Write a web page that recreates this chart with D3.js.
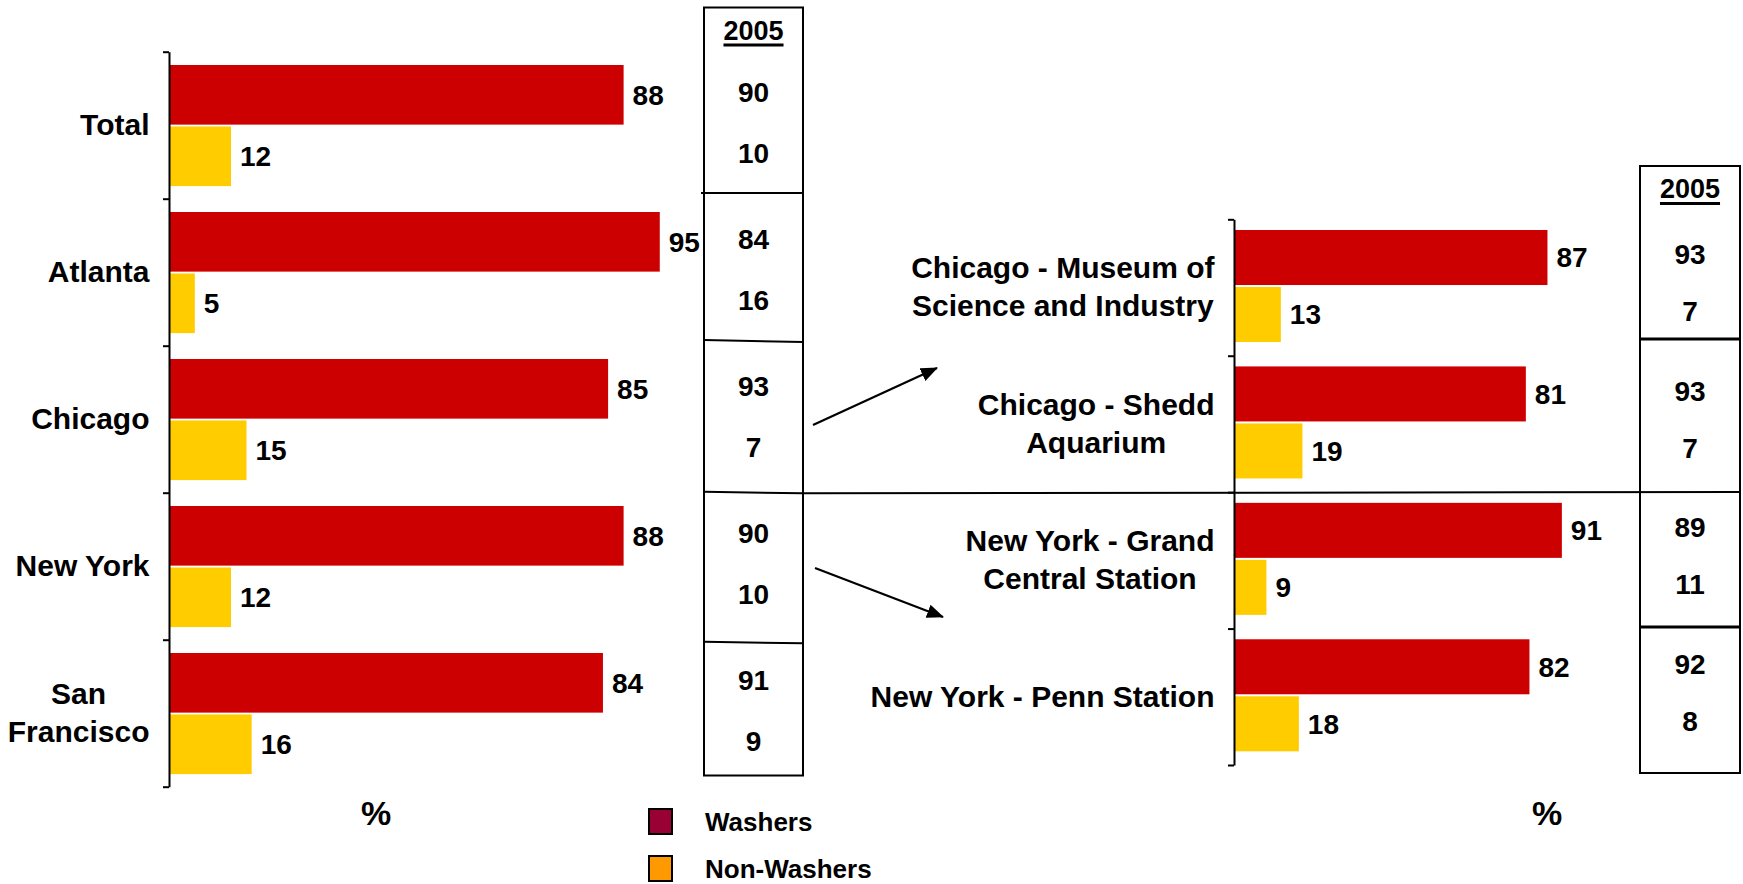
<!doctype html>
<html lang="en">
<head>
  <meta charset="utf-8">
  <title>Washers and Non-Washers</title>
  <style type="text/css">
    body{
      margin:0;
      background:#fff;
    }
    text{
      font-family: "Liberation Sans", Arial, Helvetica, sans-serif;
      font-weight:bold;
      fill:#000;
    }
    .axis path, .axis line{
      stroke:#000;
      stroke-width:2;
    }
    .box{
      fill:none;
      stroke:#000;
      stroke-width:2;
    }
    .rule{
      stroke:#000;
      stroke-width:2;
    }
  </style>
</head>
<body>
  <div id="vis"></div>
  <script src="https://cdn.jsdelivr.net/npm/d3@7"></script>
  <script type="text/javascript">

    var width = 1743,
      height = 884;

    // series
    var series = ['Washers','Non-Washers'],
      barColors = ['#CC0000','#FFCC00'],
      legendColors = ['#990033','#FF9900'];

    // cities (left panel), "\n" marks a line break in the label
    var cities = ['Total','Atlanta','Chicago','New York','San\nFrancisco'],
      cityWashers = [88,95,85,88,84],
      cityNonWashers = [12,5,15,12,16],
      city2005Washers = [90,84,93,90,91],
      city2005NonWashers = [10,16,7,10,9];

    // sites (right panel)
    var sites = ['Chicago - Museum of\nScience and Industry','Chicago - Shedd\nAquarium','New York - Grand\nCentral Station','New York - Penn Station'],
      siteWashers = [87,81,91,82],
      siteNonWashers = [13,19,9,18],
      site2005Washers = [93,93,89,92],
      site2005NonWashers = [7,7,11,8];

    var yearLabel = '2005',
      unitLabel = '%';

    var svg = d3.select('#vis').append('svg')
      .attr('width', width)
      .attr('height', height);

    var defs = svg.append('defs');
    defs.append('marker')
      .attr('id','arrow')
      .attr('markerUnits','userSpaceOnUse')
      .attr('markerWidth',17)
      .attr('markerHeight',14)
      .attr('refX',16)
      .attr('refY',7)
      .attr('orient','auto')
      .append('path')
      .attr('d','M0,0L17,7L0,14Z')
      .attr('fill','#000');

    function drawPanel(p){
      var g = svg.append('g');

      var y = d3.scaleBand().domain(p.cats).range(p.yRange);
      var sub = d3.scaleBand().domain(series)
        .range([p.subPad[0], y.bandwidth() - p.subPad[1]])
        .paddingInner(p.subGap);
      var x = d3.scaleLinear().domain([0,100]).range(p.xRange);
      var edge = d3.scaleLinear().domain([0,p.cats.length]).range(p.yRange);

      var rows = p.cats.map(function(c,i){
        return {
          cat:c,
          items:[
            {key:series[0], v:p.washers[i], old:p.old[0][i]},
            {key:series[1], v:p.nonWashers[i], old:p.old[1][i]}
          ]
        };
      });

      var grp = g.selectAll('.cat')
        .data(rows)
        .enter().append('g')
        .attr('class','cat')
        .attr('transform', function(d){ return 'translate(0,' + y(d.cat) + ')'; });

      grp.selectAll('rect')
        .data(function(d){ return d.items; })
        .enter().append('rect')
        .attr('x', x(0))
        .attr('y', function(d){ return sub(d.key); })
        .attr('width', function(d){ return x(d.v) - x(0); })
        .attr('height', sub.bandwidth())
        .attr('fill', function(d){ return barColors[series.indexOf(d.key)]; });

      grp.selectAll('text.val')
        .data(function(d){ return d.items; })
        .enter().append('text')
        .attr('class','val')
        .attr('x', function(d){ return x(d.v) + 9; })
        .attr('y', function(d){ return sub(d.key) + sub.bandwidth() / 2; })
        .attr('dy','0.35em')
        .style('font-size','28px')
        .text(function(d){ return d.v; });

      // 2005 column
      var bx = p.box.x + p.box.w / 2;
      grp.selectAll('text.old')
        .data(function(d){ return d.items; })
        .enter().append('text')
        .attr('class','old')
        .attr('x', bx)
        .attr('y', function(d){ return sub(d.key) + sub.bandwidth() / 2 - 3; })
        .attr('dy','0.35em')
        .attr('text-anchor','middle')
        .style('font-size','28px')
        .text(function(d){ return d.old; });

      // axis with ticks between categories
      g.append('g')
        .attr('class','axis')
        .attr('transform','translate(' + x(0) + ',0)')
        .call(d3.axisLeft(edge)
          .tickValues(d3.range(p.cats.length + 1))
          .tickFormat('')
          .tickSize(6)
          .tickSizeOuter(0));

      // category labels, lines centred on each other, block right aligned
      var lineGap = 38;
      rows.forEach(function(r){
        var lines = r.cat.split('\n');
        var cy = y(r.cat) + y.bandwidth() / 2;
        var txt = lines.map(function(l,k){
          return g.append('text')
            .attr('y', cy + (k - (lines.length - 1) / 2) * lineGap)
            .attr('dy','0.33em')
            .attr('text-anchor','middle')
            .style('font-size','30px')
            .text(l);
        });
        var maxW = d3.max(txt, function(t){ return t.node().getComputedTextLength(); });
        txt.forEach(function(t){ t.attr('x', p.labelRight - maxW / 2); });
      });

      g.append('text')
        .attr('x', p.unitX)
        .attr('y', 825)
        .attr('text-anchor','middle')
        .style('font-size','34px')
        .text(unitLabel);

      // box
      g.append('rect')
        .attr('class','box')
        .attr('x', p.box.x)
        .attr('y', p.box.y)
        .attr('width', p.box.w)
        .attr('height', p.box.h);

      var head = g.append('text')
        .attr('x', bx)
        .attr('y', p.box.y + 32)
        .attr('text-anchor','middle')
        .style('font-size','27px')
        .text(yearLabel);
      var hw = head.node().getComputedTextLength();
      g.append('line')
        .attr('x1', bx - hw / 2).attr('x2', bx + hw / 2)
        .attr('y1', p.box.y + 37.5).attr('y2', p.box.y + 37.5)
        .attr('stroke','#000')
        .attr('stroke-width',3);

      g.selectAll('line.div')
        .data(p.dividers)
        .enter().append('line')
        .attr('class','div')
        .attr('x1', function(d){ return d[0]; })
        .attr('y1', function(d){ return d[1]; })
        .attr('x2', function(d){ return d[2]; })
        .attr('y2', function(d){ return d[3]; })
        .attr('stroke','#000')
        .attr('stroke-width', p.dividerWidth);
    }

    drawPanel({
      cats:cities,
      washers:cityWashers,
      nonWashers:cityNonWashers,
      old:[city2005Washers, city2005NonWashers],
      yRange:[51.7, 786.7],
      subPad:[13.3, 12.6],
      subGap:0.03,
      xRange:[169, 685.6],
      labelRight:149.5,
      unitX:376,
      box:{x:704, y:7.5, w:99, h:768},
      dividers:[[701,193,804,193],[704,340,803,342],[704,491.7,803,493.3],[704,641.7,803,643.3]],
      dividerWidth:2
    });

    drawPanel({
      cats:sites,
      washers:siteWashers,
      nonWashers:siteNonWashers,
      old:[site2005Washers, site2005NonWashers],
      yRange:[219.3, 765],
      subPad:[10.7, 13.7],
      subGap:0.035,
      xRange:[1234, 1594.3],
      labelRight:1214.5,
      unitX:1547,
      box:{x:1640, y:166, w:100, h:607},
      dividers:[[1640,339,1740,339],[1640,627,1740,627]],
      dividerWidth:3
    });

    // long separator between the two tables
    svg.append('line')
      .attr('class','rule')
      .attr('x1',803).attr('y1',493.3)
      .attr('x2',1740).attr('y2',492);

    // arrows from Chicago and New York to the detail panel
    svg.selectAll('line.arrow')
      .data([[813,425,937,368],[815,568,943,617]])
      .enter().append('line')
      .attr('class','arrow')
      .attr('x1', function(d){ return d[0]; })
      .attr('y1', function(d){ return d[1]; })
      .attr('x2', function(d){ return d[2]; })
      .attr('y2', function(d){ return d[3]; })
      .attr('stroke','#000')
      .attr('stroke-width',2.2)
      .attr('marker-end','url(#arrow)');

    // legend
    var legend = svg.append('g')
      .attr('transform','translate(649,809)');
    var li = legend.selectAll('g')
      .data(series)
      .enter().append('g')
      .attr('transform', function(d,i){ return 'translate(0,' + (i * 47) + ')'; });
    li.append('rect')
      .attr('width',23)
      .attr('height',25)
      .attr('fill', function(d,i){ return legendColors[i]; })
      .attr('stroke','#000')
      .attr('stroke-width',2);
    li.append('text')
      .attr('x',56)
      .attr('y',22)
      .style('font-size','26px')
      .text(function(d){ return d; });

  </script>
</body>
</html>
